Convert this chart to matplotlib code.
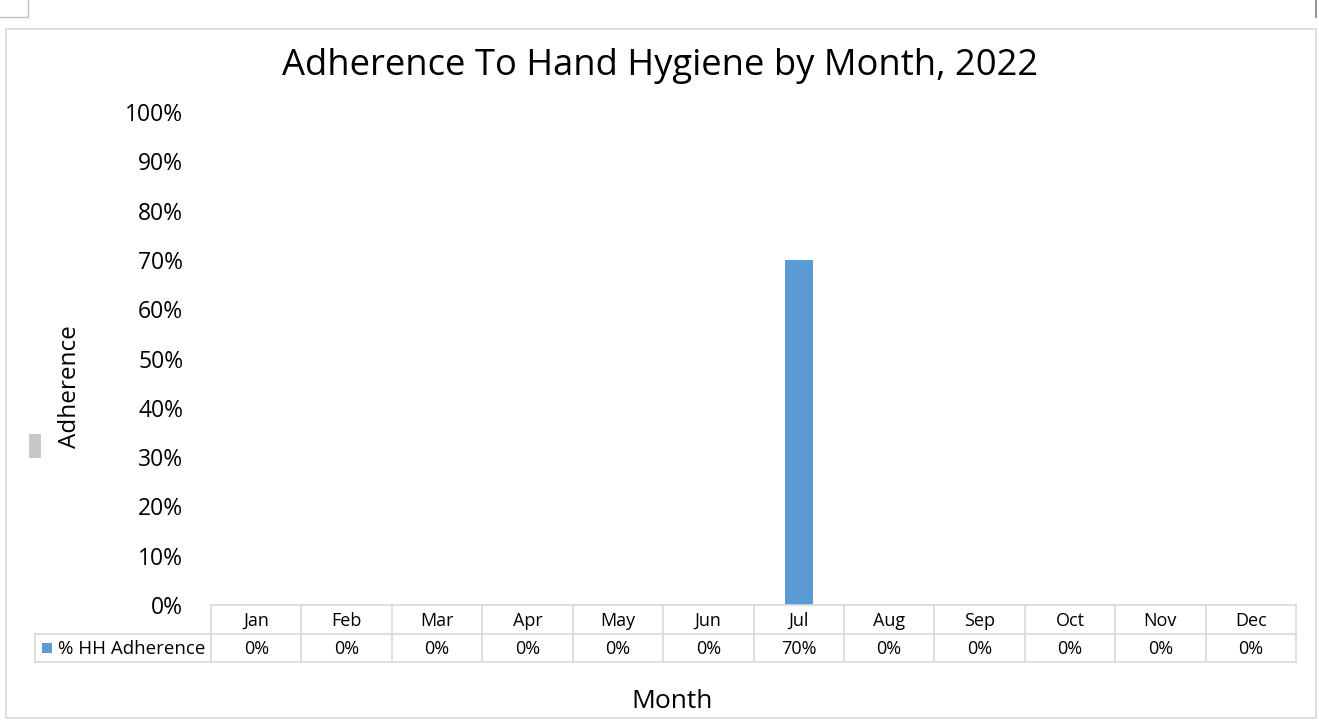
import matplotlib
matplotlib.use("Agg")
import matplotlib.pyplot as plt
from matplotlib.patches import Rectangle
from matplotlib.lines import Line2D

plt.rcParams['font.family'] = ['Open Sans', 'DejaVu Sans']

# data
months = ["Jan", "Feb", "Mar", "Apr", "May", "Jun", "Jul", "Aug", "Sep", "Oct", "Nov", "Dec"]
adherence = [0, 0, 0, 0, 0, 0, 0.70, 0, 0, 0, 0, 0]
series_name = "% HH Adherence"
yticks = [0, 0.1, 0.2, 0.3, 0.4, 0.5, 0.6, 0.7, 0.8, 0.9, 1.0]

W, H = 1319, 720
blue = "#5b9bd5"
grid = "#d9d9d9"

def fx(px):
    return px / W

def fy(py):
    return 1 - py / H

fig = plt.figure(figsize=(W / 100, H / 100), dpi=100)

# outer chart border + bits of the page around it
fig.add_artist(Rectangle((fx(6), fy(718)), fx(1316) - fx(6), fy(29) - fy(718),
                         transform=fig.transFigure, fill=False, ec=grid, lw=1.2))
fig.add_artist(Line2D([fx(0), fx(28), fx(28)], [fy(17), fy(17), fy(0)],
                      transform=fig.transFigure, color="#bfbfbf", lw=1))
fig.add_artist(Line2D([fx(1316), fx(1316)], [fy(17), fy(0)],
                      transform=fig.transFigure, color="#7f7f7f", lw=1.2))
fig.add_artist(Rectangle((fx(29), fy(458)), fx(41) - fx(29), fy(434) - fy(458),
                         transform=fig.transFigure, color="#c8c8c8", lw=0))

# main plot
left, right, top, bottom = 211, 1296, 112, 605
ax = fig.add_axes([fx(left), fy(bottom), fx(right) - fx(left), fy(top) - fy(bottom)])
n = len(months)
xs = [i + 0.5 for i in range(n)]
ax.bar(xs, adherence, width=0.31, color=blue)
ax.set_xlim(0, n)
ax.set_ylim(0, 1)
ax.set_yticks(yticks)
ax.set_yticklabels([f"{int(round(t * 100))}%" for t in yticks], fontsize=16.5)
ax.tick_params(axis="y", length=0, pad=20)
ax.set_xticks([])
for s in ax.spines.values():
    s.set_visible(False)

fig.text(0.5 * (fx(283) + fx(1038)), fy(66), "Adherence To Hand Hygiene by Month, 2022",
         ha="center", va="center", fontsize=26.2)
fig.text(fx(70), fy(387), "Adherence", rotation=90, ha="center", va="center", fontsize=17.5)
fig.text(fx(672), fy(701), "Month", ha="center", va="center", fontsize=19)

# data table under the bars
t_left, t_top, t_bot = 35, 605, 662
colw = (right - left) / n
tax = fig.add_axes([fx(t_left), fy(t_bot), fx(right) - fx(t_left), fy(t_top) - fy(t_bot)])
x0 = -(left - t_left) / colw
tax.set_xlim(x0, n)
tax.set_ylim(0, 2)
tax.axis("off")
lc = dict(color=grid, lw=1.2, clip_on=False)
tax.plot([0, n], [2, 2], **lc)
tax.plot([x0, n], [1, 1], **lc)
tax.plot([x0, n], [0, 0], **lc)
tax.plot([x0, x0], [0, 1], **lc)
for i in range(n + 1):
    tax.plot([i, i], [0, 2], **lc)
for i, (m, v) in enumerate(zip(months, adherence)):
    tax.text(i + 0.5, 1.45, m, ha="center", va="center", fontsize=13)
    tax.text(i + 0.5, 0.45, f"{int(round(v * 100))}%", ha="center", va="center", fontsize=13)
tax.add_patch(Rectangle((x0 + 0.08, 0.3), 0.11, 0.35, color=blue, lw=0))
tax.text(x0 + 0.25, 0.45, series_name, ha="left", va="center", fontsize=13.5)

fig.savefig("out.png", dpi=100)
